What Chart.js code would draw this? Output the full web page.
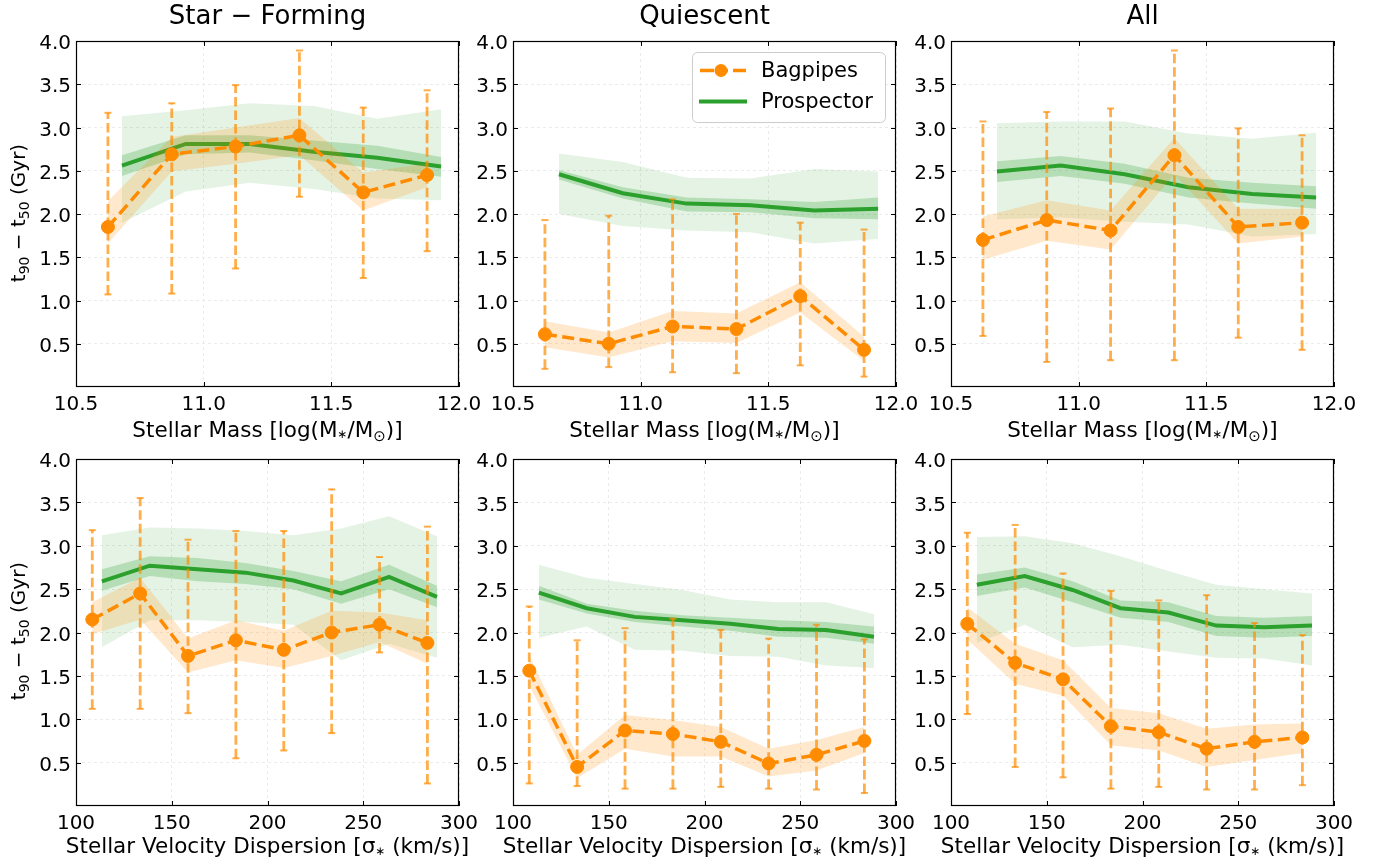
<!DOCTYPE html>
<html>
<head>
<meta charset="utf-8">
<script src="https://cdn.jsdelivr.net/npm/chart.js@4.4.1/dist/chart.umd.min.js"></script>
<style>
  html, body { margin: 0; padding: 0; background: #fff; }
  #fig { position: relative; width: 1387px; height: 867px; overflow: hidden; font-family: "DejaVu Sans", sans-serif; color: #000; }
  #fig canvas { position: absolute; }
  .lbl { position: absolute; white-space: nowrap; line-height: 1; transform: translateX(-50%); }
  .ttl { font-size: 26px; }
  .xl { font-size: 21.5px; }
  .yl { position: absolute; white-space: nowrap; line-height: 1; font-size: 20px; transform: translate(-50%, -50%) rotate(-90deg); }
  sub { font-size: 0.7em; line-height: 0; vertical-align: baseline; position: relative; top: 0.28em; }
  sub.st { font-size: 0.55em; top: 0.15em; }
</style>
</head>
<body>
<div id="fig">
  <canvas id="c1"></canvas><canvas id="c2"></canvas><canvas id="c3"></canvas>
  <canvas id="c4"></canvas><canvas id="c5"></canvas><canvas id="c6"></canvas>

  <div class="lbl ttl" style="left:267.5px; top:2px;">Star − Forming</div>
  <div class="lbl ttl" style="left:704.5px; top:2px;">Quiescent</div>
  <div class="lbl ttl" style="left:1142.5px; top:2px;">All</div>

  <div class="lbl xl" style="left:267.5px; top:418.5px;">Stellar Mass [log(M<sub class="st">∗</sub>/M<sub>⊙</sub>)]</div>
  <div class="lbl xl" style="left:704.5px; top:418.5px;">Stellar Mass [log(M<sub class="st">∗</sub>/M<sub>⊙</sub>)]</div>
  <div class="lbl xl" style="left:1142.5px; top:418.5px;">Stellar Mass [log(M<sub class="st">∗</sub>/M<sub>⊙</sub>)]</div>

  <div class="lbl xl" style="left:267.5px; top:835px;">Stellar Velocity Dispersion [σ<sub class="st">∗</sub> (km/s)]</div>
  <div class="lbl xl" style="left:704.5px; top:835px;">Stellar Velocity Dispersion [σ<sub class="st">∗</sub> (km/s)]</div>
  <div class="lbl xl" style="left:1142.5px; top:835px;">Stellar Velocity Dispersion [σ<sub class="st">∗</sub> (km/s)]</div>

  <div class="yl" style="left:18px; top:213px;">t<sub>90</sub> − t<sub>50</sub> (Gyr)</div>
  <div class="yl" style="left:18px; top:631px;">t<sub>90</sub> − t<sub>50</sub> (Gyr)</div>
</div>

<script>
// bin centres (x positions)
const massBinsBag  = [10.625, 10.875, 11.125, 11.375, 11.625, 11.875];
const massBinsPros = [10.68, 10.93, 11.18, 11.43, 11.68, 11.93];
const sigBinsBag   = [108.5, 133.5, 158.5, 183.5, 208.5, 233.5, 258.5, 283.5];
const sigBinsPros  = [113.5, 138.5, 163.5, 188.5, 213.5, 238.5, 263.5, 288.5];

// tick labels
const massTicks = [10.5, 11.0, 11.5, 12.0];
const sigTicks  = [100, 150, 200, 250, 300];
const yTicks    = [0.5, 1.0, 1.5, 2.0, 2.5, 3.0, 3.5, 4.0];

// Star-Forming vs mass
const sfMassBag      = [1.85, 2.69, 2.78, 2.91, 2.25, 2.45];
const sfMassErrLo    = [1.07, 1.08, 1.37, 2.20, 1.26, 1.57];
const sfMassErrHi    = [3.17, 3.28, 3.49, 3.89, 3.23, 3.43];
const sfMassBandLo   = [1.66, 2.49, 2.58, 2.68, 2.04, 2.31];
const sfMassBandHi   = [2.15, 2.89, 3.00, 3.11, 2.48, 2.58];
const sfMassPros     = [2.56, 2.81, 2.81, 2.72, 2.65, 2.55];
const sfMassProsLo1  = [2.44, 2.69, 2.71, 2.62, 2.52, 2.43];
const sfMassProsHi1  = [2.68, 2.91, 2.91, 2.85, 2.79, 2.66];
const sfMassProsLo2  = [1.90, 2.26, 2.36, 2.29, 2.18, 2.16];
const sfMassProsHi2  = [3.13, 3.20, 3.28, 3.25, 3.10, 3.21];

// Quiescent vs mass
const qMassBag      = [0.61, 0.50, 0.70, 0.67, 1.05, 0.43];
const qMassErrLo    = [0.21, 0.23, 0.17, 0.16, 0.25, 0.12];
const qMassErrHi    = [1.93, 1.98, 2.17, 2.00, 1.90, 1.82];
const qMassBandLo   = [0.46, 0.34, 0.53, 0.51, 0.86, 0.30];
const qMassBandHi   = [0.76, 0.63, 0.88, 0.85, 1.21, 0.58];
const qMassPros     = [2.46, 2.24, 2.12, 2.10, 2.04, 2.06];
const qMassProsLo1  = [2.40, 2.18, 2.03, 2.02, 1.95, 1.94];
const qMassProsHi1  = [2.51, 2.31, 2.19, 2.17, 2.14, 2.19];
const qMassProsLo2  = [2.00, 1.86, 1.81, 1.79, 1.66, 1.71];
const qMassProsHi2  = [2.70, 2.60, 2.42, 2.41, 2.52, 2.49];

// All vs mass
const allMassBag      = [1.70, 1.93, 1.81, 2.68, 1.85, 1.90];
const allMassErrLo    = [0.59, 0.29, 0.31, 0.31, 0.57, 0.43];
const allMassErrHi    = [3.07, 3.18, 3.22, 3.89, 2.99, 2.91];
const allMassBandLo   = [1.47, 1.69, 1.59, 2.46, 1.66, 1.74];
const allMassBandHi   = [1.97, 2.16, 2.04, 2.88, 2.06, 2.06];
const allMassPros     = [2.49, 2.56, 2.46, 2.31, 2.23, 2.19];
const allMassProsLo1  = [2.37, 2.44, 2.35, 2.19, 2.12, 2.06];
const allMassProsHi1  = [2.61, 2.67, 2.58, 2.42, 2.36, 2.32];
const allMassProsLo2  = [1.94, 1.96, 1.91, 1.88, 1.74, 1.77];
const allMassProsHi2  = [3.05, 3.07, 3.07, 2.93, 2.87, 2.94];

// Star-Forming vs sigma
const sfSigBag      = [2.15, 2.45, 1.73, 1.91, 1.80, 2.00, 2.09, 1.88];
const sfSigErrLo    = [1.12, 1.12, 1.07, 0.55, 0.64, 0.84, 1.77, 0.26];
const sfSigErrHi    = [3.18, 3.55, 3.07, 3.17, 3.17, 3.65, 2.87, 3.22];
const sfSigBandLo   = [1.98, 2.15, 1.54, 1.68, 1.59, 1.73, 1.89, 1.64];
const sfSigBandHi   = [2.35, 2.63, 1.93, 2.14, 2.02, 2.25, 2.23, 2.14];
const sfSigPros     = [2.59, 2.77, 2.73, 2.69, 2.60, 2.45, 2.64, 2.41];
const sfSigProsLo1  = [2.48, 2.65, 2.59, 2.56, 2.50, 2.33, 2.50, 2.29];
const sfSigProsHi1  = [2.73, 2.88, 2.86, 2.80, 2.71, 2.59, 2.78, 2.54];
const sfSigProsLo2  = [1.83, 2.14, 2.14, 2.12, 2.09, 1.68, 1.87, 1.71];
const sfSigProsHi2  = [3.12, 3.21, 3.20, 3.17, 3.12, 3.20, 3.34, 3.11];

// Quiescent vs sigma
const qSigBag      = [1.56, 0.45, 0.87, 0.83, 0.74, 0.49, 0.59, 0.75];
const qSigErrLo    = [0.26, 0.23, 0.20, 0.20, 0.22, 0.20, 0.19, 0.15];
const qSigErrHi    = [2.30, 1.91, 2.05, 2.16, 2.03, 1.93, 2.09, 1.92];
const qSigBandLo   = [1.39, 0.32, 0.66, 0.57, 0.57, 0.34, 0.41, 0.61];
const qSigBandHi   = [1.73, 0.59, 1.05, 0.99, 0.91, 0.66, 0.76, 0.91];
const qSigPros     = [2.46, 2.28, 2.18, 2.14, 2.10, 2.04, 2.03, 1.95];
const qSigProsLo1  = [2.38, 2.22, 2.12, 2.07, 2.02, 1.95, 1.94, 1.87];
const qSigProsHi1  = [2.54, 2.33, 2.25, 2.20, 2.17, 2.14, 2.12, 2.07];
const qSigProsLo2  = [1.94, 2.07, 1.80, 1.79, 1.73, 1.72, 1.62, 1.59];
const qSigProsHi2  = [2.78, 2.63, 2.56, 2.49, 2.38, 2.35, 2.35, 2.21];

// All vs sigma
const allSigBag      = [2.10, 1.65, 1.46, 0.92, 0.85, 0.66, 0.74, 0.79];
const allSigErrLo    = [1.06, 0.45, 0.33, 0.20, 0.22, 0.19, 0.19, 0.24];
const allSigErrHi    = [3.15, 3.24, 2.68, 2.48, 2.37, 2.43, 2.11, 1.97];
const allSigBandLo   = [1.92, 1.41, 1.27, 0.70, 0.64, 0.45, 0.53, 0.61];
const allSigBandHi   = [2.29, 1.87, 1.68, 1.13, 1.07, 0.89, 0.94, 0.95];
const allSigPros     = [2.55, 2.65, 2.49, 2.28, 2.23, 2.08, 2.06, 2.08];
const allSigProsLo1  = [2.42, 2.52, 2.35, 2.17, 2.12, 1.96, 1.94, 1.96];
const allSigProsHi1  = [2.67, 2.75, 2.59, 2.37, 2.35, 2.19, 2.17, 2.19];
const allSigProsLo2  = [1.88, 2.09, 1.83, 1.86, 1.78, 1.71, 1.70, 1.62];
const allSigProsHi2  = [3.10, 3.11, 3.03, 2.88, 2.71, 2.55, 2.50, 2.45];

const ORANGE      = '#ff8c00';
const ORANGE_ERR  = 'rgba(255,140,0,0.7)';
const ORANGE_BAND = 'rgba(255,140,0,0.2)';
const GREEN       = '#2ca02c';
const GREEN_IN    = 'rgba(44,160,44,0.25)';
const GREEN_OUT   = 'rgba(44,160,44,0.12)';
const GRID        = '#ebebeb';

// canvas margins around each plot area
const PAD_L = 75, PAD_R = 30, PAD_T = 15, PAD_B = 45, PANEL_W = 383;

Chart.defaults.font.family = '"DejaVu Sans", sans-serif';
Chart.defaults.color = '#000';

// black frame + inward ticks on all four sides (matplotlib look)
const framePlugin = {
  id: 'frame',
  afterDatasetsDraw(chart) {
    const { ctx, chartArea: a, scales: { x, y } } = chart;
    ctx.save();
    ctx.strokeStyle = '#000';
    ctx.lineWidth = 1;
    ctx.beginPath();
    x.ticks.forEach(t => {
      const px = Math.round(x.getPixelForValue(t.value)) + 0.5;
      ctx.moveTo(px, a.bottom); ctx.lineTo(px, a.bottom - 5);
      ctx.moveTo(px, a.top); ctx.lineTo(px, a.top + 5);
    });
    y.ticks.forEach(t => {
      const py = Math.round(y.getPixelForValue(t.value)) + 0.5;
      ctx.moveTo(a.left, py); ctx.lineTo(a.left + 5, py);
      ctx.moveTo(a.right, py); ctx.lineTo(a.right - 5, py);
    });
    ctx.stroke();
    ctx.lineWidth = 1.2;
    ctx.strokeRect(a.left + 0.5, a.top + 0.5, a.right - a.left - 1, a.bottom - a.top - 1);
    ctx.restore();
  }
};

// legend box inside the Quiescent mass panel
const boxLegend = {
  id: 'boxLegend',
  afterDraw(chart) {
    const { ctx, chartArea: a } = chart;
    const ds = chart.data.datasets;
    const w = 193, h = 70;
    const x0 = a.right - 11 - w, y0 = a.top + 11;
    ctx.save();
    ctx.beginPath();
    ctx.roundRect(x0 + 0.5, y0 + 0.5, w, h, 5);
    ctx.fillStyle = 'rgba(255,255,255,0.85)';
    ctx.fill();
    ctx.strokeStyle = '#cccccc';
    ctx.lineWidth = 1;
    ctx.stroke();

    const r1 = y0 + 18.5, r2 = y0 + 49.5;
    ctx.strokeStyle = ORANGE;
    ctx.lineWidth = 3.5;
    ctx.setLineDash([14, 5, 9, 5]);
    ctx.beginPath(); ctx.moveTo(x0 + 8, r1); ctx.lineTo(x0 + 54, r1); ctx.stroke();
    ctx.setLineDash([]);
    ctx.fillStyle = ORANGE;
    ctx.beginPath(); ctx.arc(x0 + 29, r1, 6.5, 0, Math.PI * 2); ctx.fill();

    ctx.strokeStyle = GREEN;
    ctx.lineWidth = 4;
    ctx.beginPath(); ctx.moveTo(x0 + 7, r2); ctx.lineTo(x0 + 55, r2); ctx.stroke();

    ctx.fillStyle = '#000';
    ctx.font = '21px "DejaVu Sans"';
    ctx.textBaseline = 'middle';
    ctx.fillText(ds[0].label, x0 + 69, r1 + 1);
    ctx.fillText(ds[4].label, x0 + 69, r2 + 1);
    ctx.restore();
  }
};

function buildPanel(p) {
  const cv = document.getElementById(p.id);
  cv.width = PAD_L + PANEL_W + PAD_R;
  cv.height = PAD_T + p.h + PAD_B;
  cv.style.left = (p.left - PAD_L) + 'px';
  cv.style.top = (p.top - PAD_T) + 'px';

  const xy = (xs, ys) => xs.map((x, i) => ({ x: x, y: ys[i] }));
  const err = [];
  p.bagX.forEach((x, i) => {
    err.push({ x: x, y: p.errLo[i] }, { x: x, y: p.errHi[i] }, { x: x, y: null });
  });
  const edge = { borderColor: 'transparent', borderWidth: 1, pointRadius: 0, fill: false };

  const gridOpts = { color: GRID, lineWidth: 1, drawTicks: false };
  const plugins = [framePlugin];
  if (p.legend) plugins.push(boxLegend);

  new Chart(cv, {
    type: 'line',
    data: {
      datasets: [
        { label: 'Bagpipes', data: xy(p.bagX, p.bag), borderColor: ORANGE, borderWidth: 3.5,
          borderDash: [12, 5.5], pointRadius: 6.5, pointBackgroundColor: ORANGE,
          pointBorderColor: ORANGE, pointBorderWidth: 1, order: 0 },
        { label: 'err', data: err, borderColor: ORANGE_ERR, borderWidth: 2.8, borderDash: [9.5, 4],
          pointStyle: 'line', pointRadius: 3.5, pointBorderColor: ORANGE_ERR, pointBorderWidth: 2,
          spanGaps: false, order: 1 },
        { data: xy(p.bagX, p.bandLo), ...edge, order: 2 },
        { data: xy(p.bagX, p.bandHi), ...edge, fill: '-1', backgroundColor: ORANGE_BAND, order: 2 },
        { label: 'Prospector', data: xy(p.prosX, p.pros), borderColor: GREEN, borderWidth: 4,
          pointRadius: 0, order: 3 },
        { data: xy(p.prosX, p.lo1), ...edge, order: 4 },
        { data: xy(p.prosX, p.hi1), ...edge, fill: '-1', backgroundColor: GREEN_IN, order: 4 },
        { data: xy(p.prosX, p.lo2), ...edge, order: 5 },
        { data: xy(p.prosX, p.hi2), ...edge, fill: '-1', backgroundColor: GREEN_OUT, order: 5 }
      ]
    },
    options: {
      responsive: false,
      animation: false,
      events: [],
      layout: { padding: { top: PAD_T, right: PAD_R, left: 0, bottom: 0 } },
      plugins: { legend: { display: false }, tooltip: { enabled: false } },
      scales: {
        x: {
          type: 'linear', min: p.xMin, max: p.xMax,
          afterBuildTicks: s => { s.ticks = p.xTicks.map(v => ({ value: v })); },
          afterFit: s => { s.height = PAD_B; },
          ticks: { padding: 6, font: { size: 20 }, color: '#000', callback: v => v.toFixed(p.dec) },
          grid: gridOpts,
          border: { display: false, dash: [3, 3] }
        },
        y: {
          type: 'linear', min: 0, max: 4,
          afterBuildTicks: s => { s.ticks = yTicks.map(v => ({ value: v })); },
          afterFit: s => { s.width = PAD_L; },
          ticks: { padding: 5, labelOffset: 3, font: { size: 20 }, color: '#000', callback: v => v.toFixed(1) },
          grid: gridOpts,
          border: { display: false, dash: [3, 3] }
        }
      }
    },
    plugins: plugins
  });
}

const mass = { xMin: 10.5, xMax: 12.0, xTicks: massTicks, dec: 1, bagX: massBinsBag, prosX: massBinsPros };
const sig  = { xMin: 100, xMax: 300, xTicks: sigTicks, dec: 0, bagX: sigBinsBag, prosX: sigBinsPros };

buildPanel({ id: 'c1', left: 76, top: 39, h: 348, ...mass,
  bag: sfMassBag, errLo: sfMassErrLo, errHi: sfMassErrHi, bandLo: sfMassBandLo, bandHi: sfMassBandHi,
  pros: sfMassPros, lo1: sfMassProsLo1, hi1: sfMassProsHi1, lo2: sfMassProsLo2, hi2: sfMassProsHi2 });
buildPanel({ id: 'c2', left: 513, top: 39, h: 348, legend: true, ...mass,
  bag: qMassBag, errLo: qMassErrLo, errHi: qMassErrHi, bandLo: qMassBandLo, bandHi: qMassBandHi,
  pros: qMassPros, lo1: qMassProsLo1, hi1: qMassProsHi1, lo2: qMassProsLo2, hi2: qMassProsHi2 });
buildPanel({ id: 'c3', left: 951, top: 39, h: 348, ...mass,
  bag: allMassBag, errLo: allMassErrLo, errHi: allMassErrHi, bandLo: allMassBandLo, bandHi: allMassBandHi,
  pros: allMassPros, lo1: allMassProsLo1, hi1: allMassProsHi1, lo2: allMassProsLo2, hi2: allMassProsHi2 });
buildPanel({ id: 'c4', left: 76, top: 457, h: 349, ...sig,
  bag: sfSigBag, errLo: sfSigErrLo, errHi: sfSigErrHi, bandLo: sfSigBandLo, bandHi: sfSigBandHi,
  pros: sfSigPros, lo1: sfSigProsLo1, hi1: sfSigProsHi1, lo2: sfSigProsLo2, hi2: sfSigProsHi2 });
buildPanel({ id: 'c5', left: 513, top: 457, h: 349, ...sig,
  bag: qSigBag, errLo: qSigErrLo, errHi: qSigErrHi, bandLo: qSigBandLo, bandHi: qSigBandHi,
  pros: qSigPros, lo1: qSigProsLo1, hi1: qSigProsHi1, lo2: qSigProsLo2, hi2: qSigProsHi2 });
buildPanel({ id: 'c6', left: 951, top: 457, h: 349, ...sig,
  bag: allSigBag, errLo: allSigErrLo, errHi: allSigErrHi, bandLo: allSigBandLo, bandHi: allSigBandHi,
  pros: allSigPros, lo1: allSigProsLo1, hi1: allSigProsHi1, lo2: allSigProsLo2, hi2: allSigProsHi2 });
</script>
</body>
</html>
